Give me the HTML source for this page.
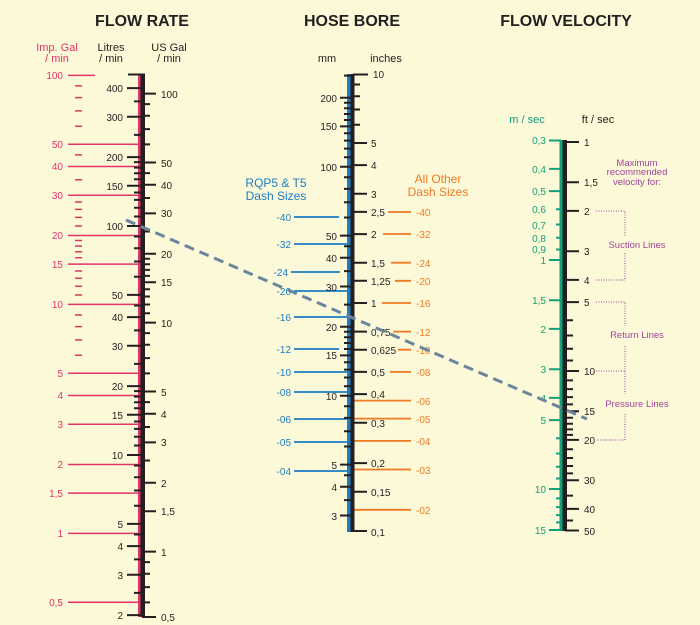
<!DOCTYPE html>
<html><head><meta charset="utf-8"><style>
html,body{margin:0;padding:0;background:#fcf9d9;}
svg{display:block;font-family:"Liberation Sans",sans-serif;}
</style></head><body>
<svg width="700" height="625" viewBox="0 0 700 625" xmlns="http://www.w3.org/2000/svg">
<rect width="700" height="625" fill="#fcf9d9"/>
<!-- Titles -->
<g font-weight="bold" font-size="16" fill="#231f20" text-anchor="middle">
<text x="142" y="26">FLOW RATE</text>
<text x="352" y="26">HOSE BORE</text>
<text x="566" y="26">FLOW VELOCITY</text>
</g>
<g font-size="11" text-anchor="middle">
<text x="57" y="51" fill="#e2336b">Imp. Gal</text><text x="57" y="62" fill="#e2336b">/ min</text>
<text x="111" y="51" fill="#231f20">Litres</text><text x="111" y="62" fill="#231f20">/ min</text>
<text x="169" y="51" fill="#231f20">US Gal</text><text x="169" y="62" fill="#231f20">/ min</text>
<text x="327" y="62" fill="#231f20">mm</text><text x="386" y="62" fill="#231f20">inches</text>
<text x="527" y="123" fill="#12a07a">m / sec</text><text x="598" y="123" fill="#231f20">ft / sec</text>
</g>
<g font-size="12" text-anchor="middle" fill="#1b7dc2"><text x="276" y="187">RQP5 &amp; T5</text><text x="276" y="200">Dash Sizes</text></g>
<g font-size="12" text-anchor="middle" fill="#f07a23"><text x="438" y="183">All Other</text><text x="438" y="196">Dash Sizes</text></g>
<g font-size="9.5" text-anchor="middle" fill="#a0449a">
<text x="637" y="166">Maximum</text><text x="637" y="175">recommended</text><text x="637" y="185">velocity for:</text>
<text x="637" y="248">Suction Lines</text><text x="637" y="338">Return Lines</text><text x="637" y="407">Pressure Lines</text>
</g>
<path d="M596 211H625V237M625 253V280H596M596 302H625V326M625 346V394M596 371H625M625 414V440H596" fill="none" stroke="#a0449a" stroke-width="1" stroke-dasharray="1 1.5"/>

<!-- FLOW RATE -->
<g stroke="#e2336b" stroke-width="1.5" fill="none">
<path d="M68 75.4H95M68 144.3H139M68 166.5H139M68 195.2H139M68 235.5H139M68 264.1H139M68 304.4H139M68 373.3H139M68 395.5H139M68 424.2H139M68 464.5H139M68 493.1H139M68 533.4H139M68 602.3H139"/>
<path d="M75 85.9H82M75 97.6H82M75 110.9H82M75 126.2H82M75 154.9H82M75 179.8H82M75 202H82M75 209.4H82M75 217.4H82M75 226H82M75 240.5H82M75 246H82M75 251.7H82M75 257.7H82M75 271H82M75 278.3H82M75 286.3H82M75 295H82M75 315H82M75 326.6H82M75 339.9H82M75 355.2H82"/>
</g>
<g font-size="10" fill="#e2336b" text-anchor="end">
<text x="63" y="79">100</text><text x="63" y="148">50</text><text x="63" y="170">40</text><text x="63" y="199">30</text><text x="63" y="239">20</text><text x="63" y="268">15</text><text x="63" y="308">10</text><text x="63" y="377">5</text><text x="63" y="399">4</text><text x="63" y="428">3</text><text x="63" y="468">2</text><text x="63" y="497">1,5</text><text x="63" y="537">1</text><text x="63" y="606">0,5</text>
</g>
<rect x="138" y="74" width="2.5" height="543" fill="#e2336b"/>
<rect x="140.5" y="74" width="4.5" height="543" fill="#231f20"/>
<g stroke="#231f20" stroke-width="2" fill="none">
<path d="M128 74.5H145M127 88.1H142M127 116.8H142M127 157.1H142M127 185.7H142M127 226H142M127 294.9H142M127 317.1H142M127 345.8H142M127 386.1H142M127 414.7H142M127 455H142M127 523.9H142M127 546.1H142M127 574.8H142M127 615.1H142"/>
<path d="M134 101.4H142M134 134.9H142M134 162.1H142M134 167.6H142M134 173.3H142M134 179.3H142M134 192.5H142M134 199.9H142M134 207.8H142M134 216.5H142M134 236.5H142M134 248.2H142M134 261.5H142M134 276.8H142M134 305.5H142M134 330.4H142M134 363.9H142M134 391.1H142M134 396.6H142M134 402.3H142M134 408.3H142M134 421.5H142M134 428.9H142M134 436.8H142M134 445.5H142M134 465.5H142M134 477.2H142M134 490.5H142M134 505.8H142M134 534.5H142M134 559.4H142M134 592.9H142"/>
<path d="M142 93.6H156M142 162.5H156M142 184.7H156M142 213.4H156M142 253.7H156M142 282.3H156M142 322.6H156M142 391.5H156M142 413.7H156M142 442.4H156M142 482.7H156M142 511.3H156M142 551.6H156M142 617H156"/>
<path d="M142 104.1H150M142 115.8H150M142 129.1H150M142 144.4H150M142 173.1H150M142 198H150M142 231.5H150M142 258.7H150M142 264.2H150M142 269.9H150M142 275.9H150M142 289.2H150M142 296.5H150M142 304.5H150M142 313.2H150M142 333.1H150M142 344.8H150M142 358.1H150M142 373.4H150M142 402.1H150M142 427H150M142 460.5H150M142 562.1H150M142 573.8H150M142 587.1H150M142 602.4H150"/>
</g>
<g font-size="10" fill="#231f20" text-anchor="end">
<text x="123" y="92">400</text><text x="123" y="121">300</text><text x="123" y="161">200</text><text x="123" y="190">150</text><text x="123" y="230">100</text><text x="123" y="299">50</text><text x="123" y="321">40</text><text x="123" y="350">30</text><text x="123" y="390">20</text><text x="123" y="419">15</text><text x="123" y="459">10</text><text x="123" y="528">5</text><text x="123" y="550">4</text><text x="123" y="579">3</text><text x="123" y="619">2</text>
</g>
<g font-size="10" fill="#231f20">
<text x="161" y="98">100</text><text x="161" y="167">50</text><text x="161" y="189">40</text><text x="161" y="217">30</text><text x="161" y="258">20</text><text x="161" y="286">15</text><text x="161" y="327">10</text><text x="161" y="396">5</text><text x="161" y="418">4</text><text x="161" y="446">3</text><text x="161" y="487">2</text><text x="161" y="515">1,5</text><text x="161" y="556">1</text><text x="161" y="621">0,5</text>
</g>

<!-- HOSE BORE -->
<g stroke="#1b7dc2" stroke-width="1.8" fill="none">
<path d="M294 217H339M294 244H350M291 272H340M294 291H350M294 317H350M294 349H339M294 372H350M294 392H350M294 419H350M294 442H350M294 471H350"/>
</g>
<g font-size="10" fill="#1b7dc2" text-anchor="end">
<text x="291" y="221">-40</text><text x="291" y="248">-32</text><text x="288" y="276">-24</text><text x="291" y="295">-20</text><text x="291" y="321">-16</text><text x="291" y="353">-12</text><text x="291" y="376">-10</text><text x="291" y="396">-08</text><text x="291" y="423">-06</text><text x="291" y="446">-05</text><text x="291" y="475">-04</text>
</g>
<g stroke="#f07a23" stroke-width="1.8" fill="none">
<path d="M388 212H411M383 234H411M391 262.7H411M395 280.8H411M382 303H411M393 331.6H411M398 349.7H411M390 371.9H411M353 400.6H411M353 418.6H411M353 440.9H411M353 469.5H411M353 509.8H411"/>
</g>
<g font-size="10" fill="#f07a23">
<text x="416" y="216">-40</text><text x="416" y="238">-32</text><text x="416" y="267">-24</text><text x="416" y="285">-20</text><text x="416" y="307">-16</text><text x="416" y="336">-12</text><text x="416" y="354">-10</text><text x="416" y="376">-08</text><text x="416" y="405">-06</text><text x="416" y="423">-05</text><text x="416" y="445">-04</text><text x="416" y="474">-03</text><text x="416" y="514">-02</text>
</g>
<rect x="347" y="74" width="3.5" height="458" fill="#1b7dc2"/>
<rect x="350.5" y="74" width="4" height="458" fill="#231f20"/>
<g stroke="#231f20" stroke-width="2" fill="none">
<path d="M340 97.8H351M340 126.4H351M340 166.7H351M340 235.6H351M340 257.8H351M340 286.5H351M340 326.8H351M340 355.4H351M340 395.7H351M340 464.6H351M340 486.8H351M340 515.5H351"/>
<path d="M344 75.6H351M344 102.8H351M344 108.3H351M344 114H351M344 120H351M344 133.3H351M344 140.6H351M344 148.6H351M344 157.3H351M344 177.2H351M344 188.9H351M344 202.2H351M344 217.5H351M344 246.2H351M344 271.1H351M344 304.6H351M344 331.8H351M344 337.3H351M344 343H351M344 349H351M344 362.2H351M344 369.6H351M344 377.5H351M344 386.2H351M344 406.2H351M344 417.9H351M344 431.2H351M344 446.5H351M344 475.2H351M344 500.1H351"/>
<path d="M353 74.5H368M353 143H367M353 165.1H367M353 193.8H367M353 211.9H367M353 234.1H367M353 262.7H367M353 280.8H367M353 303H367M353 331.6H367M353 349.7H367M353 371.9H367M353 394.1H367M353 422.8H367M353 463.1H367M353 491.7H367M353 531H367"/>
<path d="M353 84.5H360M353 96.2H360M353 109.5H360M353 124.8H360"/>
</g>
<g font-size="10" fill="#231f20" text-anchor="end">
<text x="337" y="102">200</text><text x="337" y="130">150</text><text x="337" y="171">100</text><text x="337" y="240">50</text><text x="337" y="262">40</text><text x="337" y="291">30</text><text x="337" y="331">20</text><text x="337" y="359">15</text><text x="337" y="400">10</text><text x="337" y="469">5</text><text x="337" y="491">4</text><text x="337" y="520">3</text>
</g>
<g font-size="10" fill="#231f20">
<text x="373" y="78">10</text><text x="371" y="147">5</text><text x="371" y="169">4</text><text x="371" y="198">3</text><text x="371" y="216">2,5</text><text x="371" y="238">2</text><text x="371" y="267">1,5</text><text x="371" y="285">1,25</text><text x="371" y="307">1</text><text x="371" y="336">0,75</text><text x="371" y="354">0,625</text><text x="371" y="376">0,5</text><text x="371" y="398">0,4</text><text x="371" y="427">0,3</text><text x="371" y="467">0,2</text><text x="371" y="496">0,15</text><text x="371" y="536">0,1</text>
</g>

<!-- FLOW VELOCITY -->
<rect x="559.5" y="140" width="3" height="391" fill="#12a07a"/>
<rect x="562.5" y="140" width="4.5" height="391" fill="#231f20"/>
<g stroke="#12a07a" stroke-width="2" fill="none">
<path d="M549 140.5H561M549 168.9H561M549 191.1H561M549 260H561M549 300.3H561M549 328.9H561M549 369.3H561M549 397.9H561M549 420.1H561M549 489H561M549 530H561"/>
<path d="M556 209.2H561M556 224.5H561M556 237.8H561M556 249.5H561M556 438.2H561M556 453.5H561M556 466.8H561M556 478.5H561M556 498.4H561M556 507.1H561M556 515.1H561M556 522.4H561"/>
</g>
<g font-size="10" fill="#12a07a" text-anchor="end">
<text x="546" y="144">0,3</text><text x="546" y="173">0,4</text><text x="546" y="195">0,5</text><text x="546" y="213">0,6</text><text x="546" y="229">0,7</text><text x="546" y="242">0,8</text><text x="546" y="253">0,9</text><text x="546" y="264">1</text><text x="546" y="304">1,5</text><text x="546" y="333">2</text><text x="546" y="373">3</text><text x="546" y="402">4</text><text x="546" y="424">5</text><text x="546" y="493">10</text><text x="546" y="534">15</text>
</g>
<g stroke="#231f20" stroke-width="2" fill="none">
<path d="M565 142H579M565 182.3H579M565 210.9H579M565 251.3H579M565 279.9H579M565 302.1H579M565 371H579M565 411.3H579M565 439.9H579M565 480.3H579M565 508.9H579M565 530.5H579"/>
<path d="M565 320.2H573M565 335.5H573M565 348.8H573M565 360.5H573M565 380.4H573M565 389.1H573M565 397.1H573M565 404.4H573M565 417.7H573M565 423.7H573M565 429.4H573M565 434.9H573M565 449.3H573M565 458H573M565 466H573M565 473.4H573M565 495.6H573M565 520.5H573"/>
</g>
<g font-size="10" fill="#231f20">
<text x="584" y="146">1</text><text x="584" y="186">1,5</text><text x="584" y="215">2</text><text x="584" y="255">3</text><text x="584" y="284">4</text><text x="584" y="306">5</text><text x="584" y="375">10</text><text x="584" y="415">15</text><text x="584" y="444">20</text><text x="584" y="484">30</text><text x="584" y="513">40</text><text x="584" y="535">50</text>
</g>

<!-- Dashed example line -->
<line x1="126" y1="220" x2="587" y2="419" stroke="#6b859c" stroke-width="3" stroke-dasharray="10 6"/>
</svg>
</body></html>
